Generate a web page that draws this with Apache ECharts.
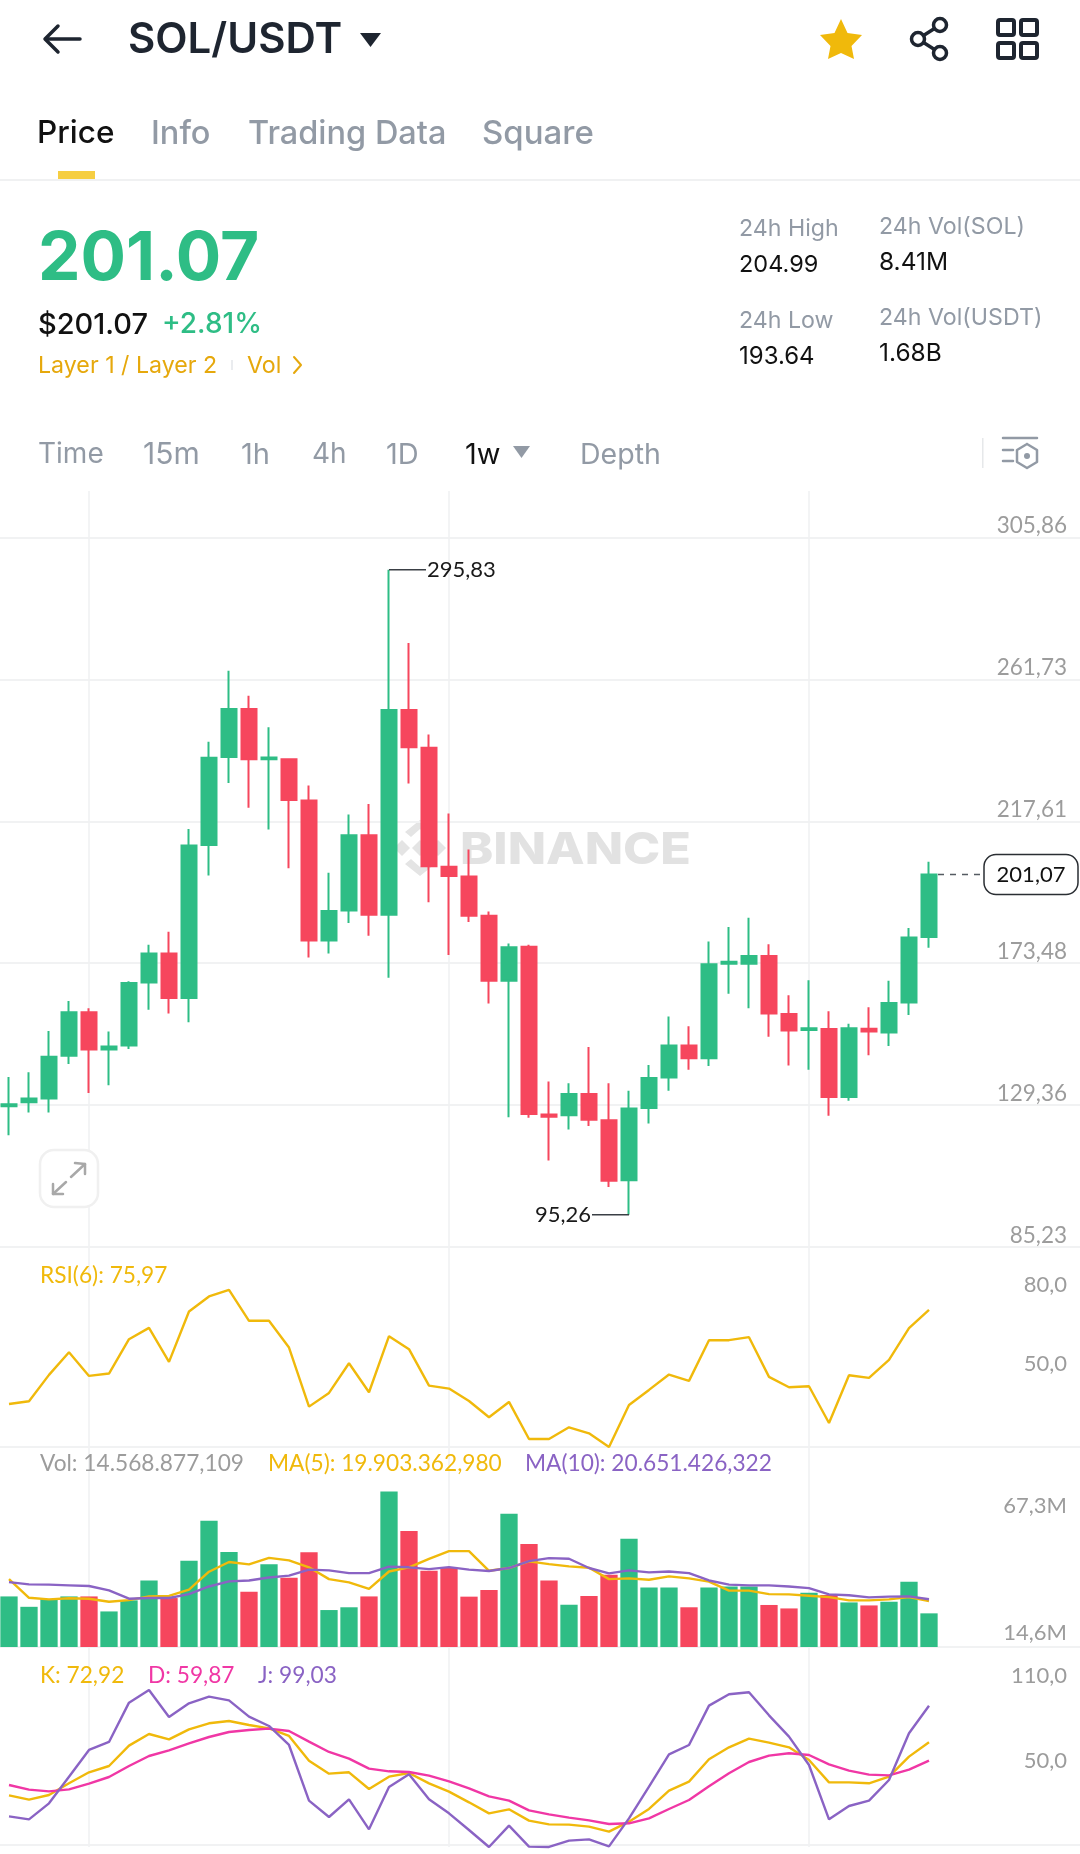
<!DOCTYPE html>
<html>
<head>
<meta charset="utf-8">
<title>SOL/USDT</title>
<style>
  html, body { margin: 0; padding: 0; background: #fff; overflow: hidden; }
  #chart { width: 1080px; height: 1854px; }
</style>
<script src="https://cdn.jsdelivr.net/npm/echarts@6/dist/echarts.min.js"></script>
</head>
<body>
<div id="chart"></div>
<script>
// ── Weekly SOL/USDT values ────────────────────────────────────────────────────
const opens = [129.03,130.24,131.44,144.70,158.25,146.65,147.86,167.44,176.48,162.62,210.22,237.63,252.54,236.88,236.88,224.07,180.54,189.88,213.23,188.53,252.24,240.49,203.44,200.43,188.23,168.04,178.59,126.47,126.17,132.80,124.66,105.99,128.43,137.92,147.86,143.94,173.31,173.31,175.72,157.65,152.68,152.98,131.89,153.13,151.93,161.26,181.60];
const closes = [129.63,131.44,144.39,158.25,146.65,147.56,167.29,176.48,162.62,210.06,237.33,252.54,236.88,237.48,224.22,180.54,189.73,213.23,188.53,252.24,240.64,203.59,200.58,188.23,168.04,178.43,126.62,125.72,132.80,124.81,105.84,128.28,137.77,147.86,143.94,173.16,173.92,175.72,157.80,152.53,153.28,131.89,153.28,152.23,161.11,181.45,201.07];
const lows = [119.99,127.07,127.07,142.14,133.10,135.51,146.80,159.00,157.80,155.09,200.73,229.49,221.81,215.04,202.99,175.27,176.48,185.97,182.05,168.95,229.34,192.44,176.02,186.27,160.96,125.57,125.42,112.16,121.80,122.86,103.88,95.26,123.61,133.85,140.33,141.53,163.98,159.46,150.57,141.68,140.33,126.02,130.69,144.85,147.71,157.35,178.28];
const highs = [138.07,139.57,152.38,161.72,159.46,152.23,167.89,179.19,183.25,215.19,242.30,264.44,256.61,246.82,237.18,228.74,201.63,219.70,223.02,295.83,273.02,244.56,220.01,208.86,189.58,179.64,179.19,136.71,136.11,147.41,136.11,133.85,141.83,156.90,153.88,180.24,184.76,187.62,179.34,163.52,168.19,158.55,154.64,159.76,168.04,184.46,204.99];

const rsi6 = [39.95,40.98,51.07,59.75,50.68,51.58,64.73,69.07,56.05,75.33,81.08,83.63,71.76,71.76,61.54,38.93,44.17,55.54,44.42,65.88,60.90,46.98,45.83,41.10,34.85,40.72,26.54,26.54,31.01,28.72,23.48,39.57,45.32,51.19,48.77,64.35,64.35,65.50,50.30,46.34,46.72,32.68,50.94,49.92,56.81,68.95,75.97];

// volumes and their moving averages, in millions
const volumes = [21.9,17.4,20.8,21.9,21.9,15.4,20.2,28.8,21.2,37.3,54.7,41.1,23.9,35.8,30.0,41.0,16.0,17.2,21.9,67.3,50.2,33.0,34.2,21.8,24.7,57.7,44.6,28.8,18.3,22.1,31.3,46.9,25.8,25.8,17.2,25.8,26.2,26.2,18.2,16.7,23.5,22.5,19.3,18.0,19.6,28.3,14.57];
const volMa5 = [29.4,21.3,20.6,21.1,20.9,19.6,20.3,21.9,22.1,24.8,32.6,36.8,35.8,38.6,37.5,34.5,29.4,28.0,25.2,32.7,34.5,38.2,41.5,41.5,33.0,34.2,37.1,35.9,34.9,34.3,29.4,29.7,29.1,30.6,29.7,28.3,24.4,24.4,22.9,22.8,22.2,21.6,20.2,20.2,20.6,21.6,19.9];
const volMa10 = [28.1,27.1,27.0,26.7,26.4,24.5,20.9,21.2,21.2,22.9,26.2,28.4,28.8,30.1,30.9,33.5,33.2,32.0,32.0,34.8,34.5,33.7,34.6,33.5,32.9,34.2,37.2,38.5,38.2,34.2,31.9,33.2,32.3,32.7,32.0,28.8,27.0,26.7,26.7,26.2,25.5,22.8,22.4,21.5,21.8,21.9,20.65];

const kLine = [35.07,31.97,35.31,43.64,51.50,56.02,70.54,78.88,75.07,82.21,86.50,88.16,85.31,82.92,77.45,59.83,50.54,51.50,39.59,48.40,51.02,43.64,37.69,30.07,22.21,25.07,16.97,14.35,14.12,12.69,9.12,16.26,25.31,38.40,44.83,60.78,69.35,75.54,72.69,69.35,60.31,44.35,44.35,43.64,48.40,62.69,72.92];
const dLine = [42.45,39.12,37.92,39.35,43.40,48.16,56.02,63.16,67.21,72.21,76.73,80.31,81.73,82.69,81.02,73.40,66.02,61.26,54.12,52.21,51.73,49.12,45.07,40.07,34.35,31.26,24.35,21.50,19.12,17.21,14.59,15.07,18.64,25.31,31.73,41.50,50.78,58.88,63.40,65.07,63.88,57.21,52.69,49.83,49.35,53.40,59.87];
const jLine = [20.07,17.92,29.35,48.40,67.45,73.16,101.26,110.31,91.02,100.78,105.54,102.92,91.26,84.59,71.02,31.26,19.59,32.21,10.78,41.02,50.07,32.21,22.21,10.31,-1.84,13.40,-1.60,-1.80,2.69,3.64,-1.36,18.64,41.26,64.35,71.02,99.12,107.21,108.64,92.21,76.97,56.73,17.92,27.45,31.26,46.02,79.35,99.03];

// Tick labels as the app prints them
const priceTicks = [305.86, 261.73, 217.61, 173.48, 129.36, 85.23];
const rsiTicks = [80, 50];
const volTicks = [67.3, 14.6];
const kdjTicks = [110, 50];

const callouts = [[19, 295.83, 1], [31, 95.26, -1]];
const lastPrice = [[46, 201.07]];

// ── Colours ───────────────────────────────────────────────────────────────────
const GREEN = '#2EBD85';
const RED = '#F6465D';
const YELLOW = '#F0B90B';
const PINK = '#F037A5';
const PURPLE = '#8A63C4';
const GRID = '#F1F2F3';
const AXIS_TEXT = '#9C9C9C';
const MUTED = '#929AA5';
const DARK = '#1E2530';
const FONT = 'Inter';
const NUM_FONT = 'Lato';

// Room for the empty weeks on the right of the last candle; the last band runs
// past the canvas edge, hence the large label margin below
const categories = opens.map((_, i) => 'W' + (i + 1)).concat(['', '', '', '', '', '', '', '']);
const LABEL_MARGIN = 32;
const comma = (v, digits) => v.toFixed(digits).replace('.', ',');

// ── Panes ─────────────────────────────────────────────────────────────────────
const paneEdges = [[491, 1247], [1247, 1447], [1447, 1647], [1647, 1847]];

const grids = paneEdges.map(([top, bottom]) => ({
  // outerBoundsMode off: ECharts 6 would otherwise squeeze the grid into the canvas
  outerBoundsMode: 'none',
  left: -1, width: 1100, top, height: bottom - top,
}));

const xAxes = paneEdges.map((_, gridIndex) => ({
  type: 'category',
  gridIndex,
  data: categories,
  axisTick: { show: false },
  axisLabel: { show: false },
  axisLine: { show: true, lineStyle: { color: GRID, width: 2 } },
  splitLine: {
    show: true,
    alignWithLabel: true,
    interval: (i) => i % 18 === 4,
    lineStyle: { color: '#EFF0F2', width: 1.5 },
  },
}));

function tickLabels(ticks, formatter, size, verticalAlign, padding) {
  return {
    inside: true,
    margin: LABEL_MARGIN,
    customValues: ticks,
    formatter,
    color: AXIS_TEXT,
    fontFamily: NUM_FONT,
    fontSize: size,
    verticalAlign,
    padding,
  };
}

function valueAxis(gridIndex, min, max, ticks, axisLabel, extra) {
  return Object.assign({
    type: 'value',
    gridIndex,
    position: 'right',
    min,
    max,
    axisLine: { show: false },
    axisTick: { show: false, customValues: ticks },
    splitLine: { show: false },
    axisLabel,
  }, extra);
}

const yAxes = [
  valueAxis(0, 85.23, 320.31, priceTicks, tickLabels(priceTicks, (v) => comma(v, 2), 22.5, 'bottom', [0, 0, 0, 0]), {
    splitLine: { show: true, lineStyle: { color: GRID, width: 2 } },
  }),
  valueAxis(1, 23.48, 100, rsiTicks, tickLabels(rsiTicks, (v) => comma(v, 1), 22, 'bottom', [0, 0, 3, 0])),
  // bars hang off a zero base, the printed max/min labels have their own scale
  { type: 'value', gridIndex: 2, min: 0, max: 86.6, show: false },
  valueAxis(2, 8.82, 91.54, volTicks, tickLabels(volTicks, (v) => comma(v, 1) + 'M', 22, 'middle', [0, 0, 0, 0])),
  valueAxis(3, -1.84, 141, kdjTicks, tickLabels(kdjTicks, (v) => comma(v, 1), 22, 'bottom', [0, 0, 3, 0])),
];

function line(name, data, color, xAxisIndex, yAxisIndex) {
  return {
    name, type: 'line', data, xAxisIndex, yAxisIndex,
    showSymbol: false, clip: false, z: 4,
    lineStyle: { color, width: 2.4 },
    itemStyle: { color },
  };
}

// ── Callouts for the extremes and the live price ──────────────────────────────
function renderCallout(params, api) {
  const p = api.coord([api.value(0), api.value(1)]);
  const dir = api.value(2);
  const text = comma(api.value(1), 2);
  return {
    type: 'group',
    children: [
      { type: 'line', shape: { x1: p[0], y1: p[1], x2: p[0] + dir * 37, y2: p[1] },
        style: { stroke: '#3A3F45', lineWidth: 1.5 } },
      { type: 'text', style: {
        text, x: p[0] + dir * 38, y: p[1], fill: '#1A1A1A',
        font: '22px ' + NUM_FONT, align: dir > 0 ? 'left' : 'right', verticalAlign: 'middle',
      } },
    ],
  };
}

function renderLastPrice(params, api) {
  const p = api.coord([api.value(0), api.value(1)]);
  return {
    type: 'group',
    children: [
      { type: 'line', shape: { x1: p[0] + 9, y1: p[1], x2: 984, y2: p[1] },
        style: { stroke: '#555B62', lineWidth: 1.5, lineDash: [6, 6] } },
      { type: 'rect', shape: { x: 984, y: p[1] - 20, width: 94, height: 40, r: 12 },
        style: { fill: '#fff', stroke: '#2A2E33', lineWidth: 1.5 } },
      { type: 'text', style: {
        text: comma(api.value(1), 2), x: 1031, y: p[1], fill: '#111',
        font: '22px ' + NUM_FONT, align: 'center', verticalAlign: 'middle',
      } },
    ],
  };
}

const series = [
  {
    name: 'Price', type: 'candlestick',
    data: opens.map((o, i) => [o, closes[i], lows[i], highs[i]]),
    xAxisIndex: 0, yAxisIndex: 0,
    barWidth: 15.3, z: 3,
    itemStyle: { color: GREEN, color0: RED, borderColor: GREEN, borderColor0: RED, borderWidth: 2 },
  },
  {
    type: 'custom', renderItem: renderCallout, data: callouts,
    encode: { x: 0, y: 1 }, xAxisIndex: 0, yAxisIndex: 0, clip: false, z: 5,
  },
  {
    type: 'custom', renderItem: renderLastPrice, data: lastPrice,
    encode: { x: 0, y: 1 }, xAxisIndex: 0, yAxisIndex: 0, clip: false, z: 5,
  },
  line('RSI(6)', rsi6, YELLOW, 1, 1),
  {
    name: 'Vol', type: 'bar', xAxisIndex: 2, yAxisIndex: 2, barWidth: 17.3, z: 2,
    data: volumes.map((v, i) => ({
      value: v,
      itemStyle: { color: closes[i] >= opens[i] ? GREEN : RED },
    })),
  },
  line('MA(5)', volMa5, YELLOW, 2, 2),
  line('MA(10)', volMa10, PURPLE, 2, 2),
  line('K', kLine, YELLOW, 3, 4),
  line('D', dLine, PINK, 3, 4),
  line('J', jLine, PURPLE, 3, 4),
];

// ── App chrome around the chart ───────────────────────────────────────────────
function txt(text, x, y, fill, size, weight, family) {
  return {
    type: 'text', silent: true, z: 1,
    style: {
      text, x, y, fill,
      font: (weight || 400) + ' ' + size + 'px ' + (family || FONT),
      verticalAlign: 'middle',
    },
  };
}
function stroke(points, color, width) {
  return {
    type: 'polyline', silent: true, z: 1,
    shape: { points },
    style: { fill: null, stroke: color, lineWidth: width, lineCap: 'round', lineJoin: 'round' },
  };
}
function poly(points, fill) {
  return { type: 'polygon', silent: true, z: 0, shape: { points }, style: { fill } };
}
function ring(cx, cy, r, color, width) {
  return { type: 'circle', silent: true, z: 1, shape: { cx, cy, r }, style: { fill: '#fff', stroke: color, lineWidth: width } };
}
function box(x, y, width, height, r, color, lineWidth, fill) {
  return { type: 'rect', silent: true, z: 1, shape: { x, y, width, height, r }, style: { fill: fill || 'none', stroke: color, lineWidth } };
}

const chrome = [
  // top bar
  stroke([[46, 39], [80, 39]], DARK, 3.5),
  stroke([[58, 26], [45, 39], [58, 52]], DARK, 3.5),
  txt('SOL/USDT', 128, 40, DARK, 42, 600),
  poly([[360, 33], [381, 33], [370.5, 47]], DARK),
  poly([[841, 19], [847.5, 33], [862, 35], [851.5, 46], [854, 59], [841, 53], [828, 59], [830.5, 46], [820, 35], [834.5, 33]], YELLOW),
  stroke([[940, 25], [918, 39], [940, 53]], DARK, 3.5),
  ring(940, 25, 6.5, DARK, 3.5),
  ring(918, 39, 6.5, DARK, 3.5),
  ring(940, 53, 6.5, DARK, 3.5),
  box(998, 20, 16, 15, 2, DARK, 4),
  box(1021, 20, 16, 15, 2, DARK, 4),
  box(998, 43, 16, 15, 2, DARK, 4),
  box(1021, 43, 16, 15, 2, DARK, 4),

  // tabs
  txt('Price', 37, 134, '#111', 31.5, 500),
  txt('Info', 151, 134, MUTED, 32.5, 500),
  txt('Trading Data', 248, 134, MUTED, 32.5, 500),
  txt('Square', 482, 134, MUTED, 33, 500),
  { type: 'rect', silent: true, z: 1, shape: { x: 58, y: 171, width: 37, height: 8 }, style: { fill: '#F6CE42' } },
  { type: 'rect', silent: true, z: 0, shape: { x: 0, y: 179, width: 1080, height: 2 }, style: { fill: '#F0F1F2' } },

  // ticker
  txt('201.07', 38, 260, GREEN, 67.5, 700),
  txt('$201.07', 38, 325, '#111', 29, 500),
  txt('+2.81%', 162, 325, GREEN, 28, 500),
  txt('Layer 1 / Layer 2', 38, 366, '#E6A80C', 23.2),
  { type: 'rect', silent: true, z: 1, shape: { x: 231, y: 360, width: 2, height: 10 }, style: { fill: '#EAECEF' } },
  txt('Vol', 247, 366, '#E6A80C', 23.2),
  stroke([[294, 357], [301, 365], [294, 373]], '#E6A80C', 2),
  txt('24h High', 739, 229, MUTED, 23.2),
  txt('204.99', 739, 265, '#111', 23.5),
  txt('24h Low', 739, 321, MUTED, 23.2),
  txt('193.64', 739, 357, '#111', 24),
  txt('24h Vol(SOL)', 879, 227, MUTED, 23.2),
  txt('8.41M', 879, 263, '#111', 24.5),
  txt('24h Vol(USDT)', 879, 318, MUTED, 23.2),
  txt('1.68B', 879, 354, '#111', 24.5),

  // timeframe row
  txt('Time', 38, 455, MUTED, 28),
  txt('15m', 143, 455, MUTED, 30),
  txt('1h', 241, 455, MUTED, 29),
  txt('4h', 312, 455, MUTED, 28),
  txt('1D', 386, 455, MUTED, 29),
  txt('1w', 465, 455, '#111', 29),
  poly([[513, 446], [530, 446], [521.5, 458]], MUTED),
  txt('Depth', 580, 455, MUTED, 28.5),
  { type: 'rect', silent: true, z: 1, shape: { x: 982, y: 438, width: 1.5, height: 30 }, style: { fill: '#E6E8EA' } },
  stroke([[1003, 438], [1037, 438]], MUTED, 2.5),
  stroke([[1003, 450], [1013, 450]], MUTED, 2.5),
  stroke([[1003, 461], [1013, 461]], MUTED, 2.5),
  stroke([[1027, 444], [1037, 450], [1037, 462], [1027, 468], [1017, 462], [1017, 450], [1027, 444]], MUTED, 2.5),
  { type: 'circle', silent: true, z: 1, shape: { cx: 1027, cy: 456, r: 3 }, style: { fill: MUTED } },

  // watermark
  poly([[420, 820], [435, 832], [429, 837], [420, 829], [411, 837], [405, 832]], '#E4E4E4'),
  poly([[420, 876], [435, 864], [429, 859], [420, 867], [411, 859], [405, 864]], '#E4E4E4'),
  poly([[420, 840], [428, 848], [420, 856], [412, 848]], '#E4E4E4'),
  poly([[402, 840], [410, 848], [402, 856], [394, 848]], '#E4E4E4'),
  poly([[438, 840], [446, 848], [438, 856], [430, 848]], '#E4E4E4'),
  Object.assign(txt('BINANCE', 460, 851, '#E2E2E2', 44, 800), { z: 0, scaleX: 1.14, originX: 460, originY: 851 }),

  // expand button
  box(40, 1150, 58, 57, 14, '#F0F0F0', 2.5, '#fff'),
  stroke([[71, 1177], [85, 1164]], '#A8A8A8', 2.5),
  stroke([[75, 1163], [85, 1164], [85, 1174]], '#A8A8A8', 2.5),
  stroke([[66, 1182], [53, 1194]], '#A8A8A8', 2.5),
  stroke([[53, 1184], [53, 1194], [63, 1194]], '#A8A8A8', 2.5),

  // indicator legends
  txt('RSI(6): ' + comma(rsi6[46], 2), 40, 1276, YELLOW, 22.7, 400, NUM_FONT),
  txt('Vol: 14.568.877,109', 40, 1464, AXIS_TEXT, 22.7, 400, NUM_FONT),
  txt('MA(5): 19.903.362,980', 268, 1464, YELLOW, 22.7, 400, NUM_FONT),
  txt('MA(10): 20.651.426,322', 525, 1464, PURPLE, 22.7, 400, NUM_FONT),
  txt('K: ' + comma(kLine[46], 2), 40, 1676, YELLOW, 22.7, 400, NUM_FONT),
  txt('D: ' + comma(dLine[46], 2), 148, 1676, PINK, 22.7, 400, NUM_FONT),
  txt('J: ' + comma(jLine[46], 2), 258, 1676, PURPLE, 22.7, 400, NUM_FONT),
];

// ── Chart ─────────────────────────────────────────────────────────────────────
const chart = echarts.init(document.getElementById('chart'), null, { renderer: 'canvas' });
chart.setOption({
  animation: false,
  backgroundColor: '#fff',
  textStyle: { fontFamily: FONT },
  grid: grids,
  xAxis: xAxes,
  yAxis: yAxes,
  series,
  graphic: chrome,
});
</script>
</body>
</html>
